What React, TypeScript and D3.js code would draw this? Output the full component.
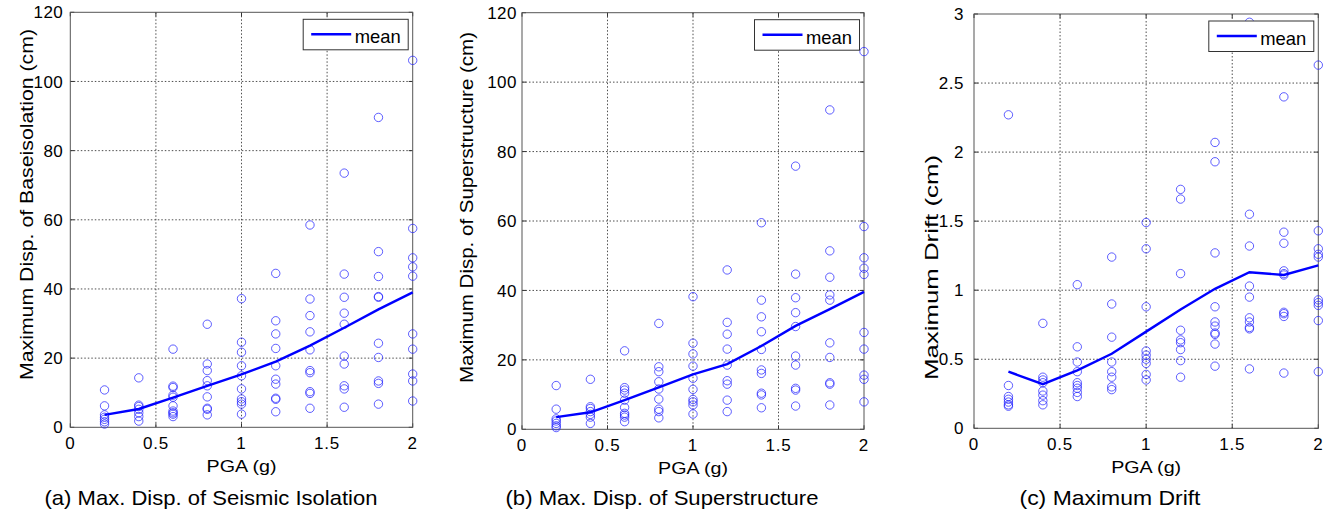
import React from "react";
import * as d3 from "d3";

// ---------- data ----------
const pga = [0.2, 0.4, 0.6, 0.8, 1.0, 1.2, 1.4, 1.6, 1.8, 2.0];
const xTicks = [0, 0.5, 1, 1.5, 2];
const dispTicks = [0, 20, 40, 60, 80, 100, 120];
const driftTicks = [0, 0.5, 1, 1.5, 2, 2.5, 3];

// (a) maximum displacement of base isolation (cm), one list per PGA level
const isolationPoints: number[][] = [
  [10.8, 6.2, 3.6, 2.9, 2.3, 1.6, 0.95],
  [14.3, 6.4, 6.0, 5.2, 4.2, 3.1, 1.8],
  [22.6, 11.9, 11.5, 9.3, 8.7, 6.2, 4.7, 4.2, 3.8, 3.1],
  [29.8, 18.3, 16.4, 13.5, 12.0, 8.8, 5.5, 5.2, 3.6],
  [37.2, 24.6, 21.7, 17.8, 14.9, 11.1, 8.2, 7.4, 6.7, 3.8],
  [44.5, 30.8, 27.0, 22.8, 17.8, 13.9, 12.5, 8.4, 8.1, 4.5],
  [58.5, 37.1, 32.3, 27.6, 22.4, 16.4, 15.8, 10.3, 9.8, 5.5],
  [73.5, 44.3, 37.6, 33.0, 29.8, 20.6, 18.3, 12.0, 11.1, 5.8],
  [89.6, 50.8, 43.6, 37.8, 37.6, 24.3, 20.2, 13.4, 12.7, 6.7],
  [106.1, 57.5, 49.0, 46.4, 43.7, 27.0, 22.6, 15.4, 13.4, 7.6],
];
const isolationMean = [3.6, 5.3, 8.6, 12.0, 15.3, 19.0, 23.6, 28.8, 34.1, 39.0];

// (b) maximum displacement of superstructure (cm)
const superPoints: number[][] = [
  [12.6, 5.8, 3.0, 2.4, 1.7, 1.0, 0.5],
  [14.4, 6.5, 6.0, 5.1, 4.3, 3.5, 1.7],
  [22.6, 12.0, 11.3, 10.4, 8.4, 6.3, 4.6, 4.1, 3.5, 2.2],
  [30.5, 18.0, 16.6, 13.7, 11.6, 8.7, 5.8, 5.1, 3.3],
  [38.2, 24.8, 21.7, 18.2, 14.7, 11.5, 8.6, 7.9, 7.0, 4.4],
  [45.9, 30.8, 27.4, 23.1, 18.5, 14.0, 13.0, 8.4, 5.1],
  [59.5, 37.2, 32.4, 28.1, 23.0, 17.1, 16.1, 10.4, 9.9, 6.2],
  [75.8, 44.7, 37.9, 33.6, 29.6, 21.1, 18.5, 11.8, 11.3, 6.7],
  [92.0, 51.4, 43.8, 38.7, 37.2, 24.9, 20.7, 13.4, 13.0, 7.0],
  [108.8, 58.4, 49.4, 46.4, 44.6, 27.9, 23.1, 15.6, 14.4, 7.9],
];
const superMean = [3.5, 4.9, 8.4, 12.1, 15.8, 18.8, 24.0, 29.8, 34.6, 39.6];

// (c) maximum drift (cm)
const driftPoints: number[][] = [
  [2.27, 0.31, 0.23, 0.21, 0.19, 0.17, 0.16],
  [0.76, 0.37, 0.35, 0.33, 0.27, 0.24, 0.2, 0.17],
  [1.04, 0.59, 0.48, 0.41, 0.33, 0.31, 0.29, 0.26, 0.23],
  [1.24, 0.9, 0.66, 0.48, 0.41, 0.37, 0.3, 0.28],
  [1.49, 1.3, 0.88, 0.56, 0.53, 0.5, 0.47, 0.39, 0.35],
  [1.73, 1.66, 1.12, 0.71, 0.64, 0.62, 0.57, 0.49, 0.37],
  [2.07, 1.93, 1.27, 0.88, 0.77, 0.74, 0.69, 0.68, 0.61, 0.45],
  [2.94, 1.55, 1.32, 1.03, 0.95, 0.8, 0.77, 0.73, 0.72, 0.43],
  [2.4, 1.42, 1.34, 1.14, 1.12, 1.11, 0.84, 0.83, 0.81, 0.4],
  [2.63, 1.43, 1.3, 1.26, 1.24, 0.93, 0.91, 0.89, 0.78, 0.41],
];
const driftMean = [0.41, 0.32, 0.42, 0.54, 0.7, 0.86, 1.01, 1.13, 1.11, 1.18];

// ---------- layout ----------
const FONT = "'Liberation Sans', Arial, Helvetica, sans-serif";

type Spec = {
  left: number; right: number; top: number; bottom: number;
  ymax: number; yTicks: number[];
  points: number[][]; mean: number[];
  ylabel: string; ylabelX: number; ylabelY: number; ylabelLen: number;
  tickGap: number;
  caption: string; captionX: number; captionLen: number;
};

const specs: Spec[] = [
  {
    left: 70.3, right: 412.7, top: 12.3, bottom: 427.3, ymax: 120, yTicks: dispTicks,
    points: isolationPoints, mean: isolationMean,
    ylabel: "Maximum Disp. of Baseisolation (cm)", ylabelX: 33, ylabelY: 380, ylabelLen: 351,
    tickGap: 7, caption: "(a) Max. Disp. of Seismic Isolation", captionX: 211, captionLen: 333,
  },
  {
    left: 522, right: 864, top: 12.7, bottom: 429.3, ymax: 120, yTicks: dispTicks,
    points: superPoints, mean: superMean,
    ylabel: "Maximum Disp. of Superstructure (cm)", ylabelX: 473, ylabelY: 383, ylabelLen: 351,
    tickGap: 5, caption: "(b) Max. Disp. of Superstructure", captionX: 662, captionLen: 313,
  },
  {
    left: 974, right: 1318.3, top: 14, bottom: 428.3, ymax: 3, yTicks: driftTicks,
    points: driftPoints, mean: driftMean,
    ylabel: "Maximum Drift (cm)", ylabelX: 938, ylabelY: 380, ylabelLen: 225,
    tickGap: 10, caption: "(c) Maximum Drift", captionX: 1110, captionLen: 181,
  },
];

function Panel({ s }: { s: Spec }) {
  const x = d3.scaleLinear().domain([0, 2]).range([s.left, s.right]);
  const y = d3.scaleLinear().domain([0, s.ymax]).range([s.bottom, s.top]);
  const line = d3
    .line<number>()
    .x((_, i) => x(pga[i]))
    .y((d) => y(d));
  const tickLen = 4;
  const lgW = 105, lgH = 30.5;
  const lgX = s.right - 4.5 - lgW;
  const lgY = s.top + 7;
  const midX = (s.left + s.right) / 2;

  return (
    <g>
      <rect x={s.left} y={s.top} width={s.right - s.left} height={s.bottom - s.top} fill="#fff" />
      {/* grid */}
      {xTicks.slice(1, -1).map((t) => (
        <line key={"gx" + t} x1={x(t)} x2={x(t)} y1={s.top} y2={s.bottom}
          stroke="#222" strokeWidth={0.8} strokeDasharray="1.5,2" />
      ))}
      {s.yTicks.slice(1, -1).map((t) => (
        <line key={"gy" + t} x1={s.left} x2={s.right} y1={y(t)} y2={y(t)}
          stroke="#222" strokeWidth={0.8} strokeDasharray="1.5,2" />
      ))}
      {/* ticks */}
      {xTicks.map((t) => (
        <g key={"tx" + t}>
          <line x1={x(t)} x2={x(t)} y1={s.bottom} y2={s.bottom - tickLen} stroke="#333" />
          <line x1={x(t)} x2={x(t)} y1={s.top} y2={s.top + tickLen} stroke="#333" />
          <text x={x(t)} y={s.bottom + 22} textAnchor="middle" fontSize={17}
            fontFamily={FONT} letterSpacing={0.8} fill="#000">{String(t)}</text>
        </g>
      ))}
      {s.yTicks.map((t) => (
        <g key={"ty" + t}>
          <line x1={s.left} x2={s.left + tickLen} y1={y(t)} y2={y(t)} stroke="#333" />
          <line x1={s.right} x2={s.right - tickLen} y1={y(t)} y2={y(t)} stroke="#333" />
          <text x={s.left - s.tickGap} y={y(t)} dy="0.36em" textAnchor="end" fontSize={17}
            fontFamily={FONT} letterSpacing={0.5} fill="#000">{String(t)}</text>
        </g>
      ))}
      {/* axis box */}
      <rect x={s.left} y={s.top} width={s.right - s.left} height={s.bottom - s.top}
        fill="none" stroke="#555" strokeWidth={1} />
      {/* scatter */}
      {s.points.map((col, i) =>
        col.map((v, j) => (
          <circle key={"p" + i + "-" + j} cx={x(pga[i])} cy={y(v)} r={4.2}
            fill="none" stroke="#2020ff" strokeOpacity={0.8} strokeWidth={0.9} />
        ))
      )}
      {/* mean line */}
      <path d={line(s.mean) || ""} fill="none" stroke="#0000ff" strokeWidth={2.4} />
      {/* legend */}
      <rect x={lgX} y={lgY} width={lgW} height={lgH} fill="#fff" stroke="#333" strokeWidth={1} />
      <line x1={lgX + 8} x2={lgX + 48} y1={lgY + 15} y2={lgY + 15} stroke="#0000ff" strokeWidth={2.4} />
      <text x={lgX + 51.5} y={lgY + 24} fontSize={19} fontFamily={FONT}
        textLength={46} lengthAdjust="spacingAndGlyphs" fill="#000">mean</text>
      {/* labels */}
      <text transform={`translate(${s.ylabelX},${s.ylabelY}) rotate(-90)`} fontSize={18}
        fontFamily={FONT} textLength={s.ylabelLen} lengthAdjust="spacingAndGlyphs" fill="#000">
        {s.ylabel}
      </text>
      <text x={midX} y={s.bottom + 45} textAnchor="middle" fontSize={17} fontFamily={FONT}
        textLength={70} lengthAdjust="spacingAndGlyphs" fill="#000">PGA (g)</text>
      <text x={s.captionX} y={505} textAnchor="middle" fontSize={21} fontFamily={FONT}
        textLength={s.captionLen} lengthAdjust="spacingAndGlyphs" fill="#000">{s.caption}</text>
    </g>
  );
}

export default function App() {
  return (
    <div style={{ position: "absolute", left: 0, top: 0 }}>
      <svg width={1332} height={513} viewBox="0 0 1332 513" style={{ display: "block", background: "#fff" }}>
        <rect width={1332} height={513} fill="#fff" />
        {specs.map((s, i) => (
          <Panel key={i} s={s} />
        ))}
      </svg>
    </div>
  );
}
